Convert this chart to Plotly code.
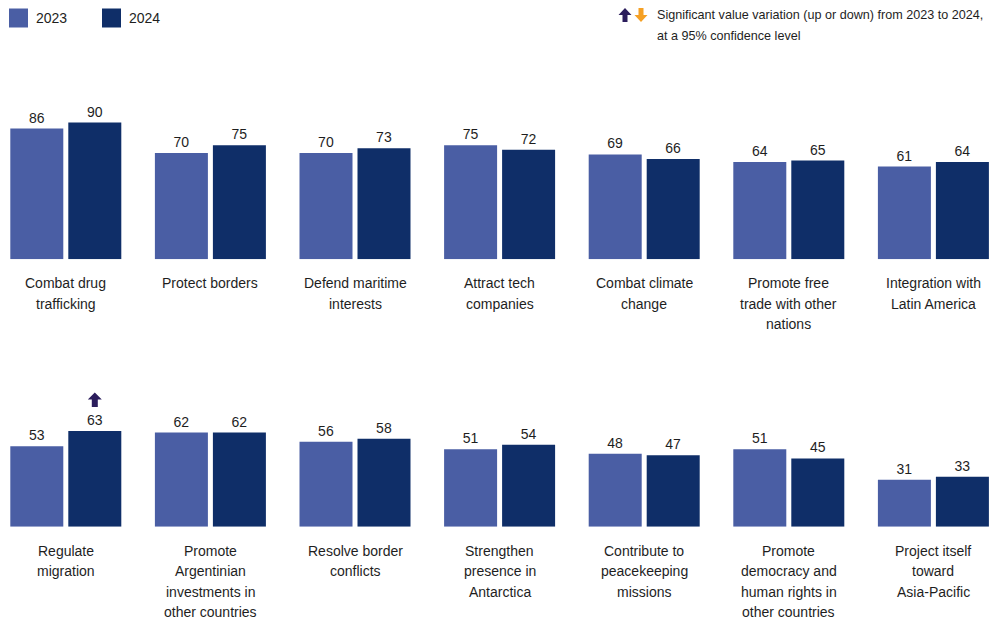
import plotly.graph_objects as go

# ---------------- data ----------------
cats_row1 = ["Combat drug<br>trafficking", "Protect borders", "Defend maritime<br>interests",
             "Attract tech<br>companies", "Combat climate<br>change",
             "Promote free<br>trade with other<br>nations", "Integration with<br>Latin America"]
v2023_row1 = [86, 70, 70, 75, 69, 64, 61]
v2024_row1 = [90, 75, 73, 72, 66, 65, 64]
sig_row1 = ["", "", "", "", "", "", ""]

cats_row2 = ["Regulate<br>migration", "Promote<br>Argentinian<br>investments in<br>other countries",
             "Resolve border<br>conflicts", "Strengthen<br>presence in<br>Antarctica",
             "Contribute to<br>peacekeeping<br>missions", "Promote<br>democracy and<br>human rights in<br>other countries",
             "Project itself<br>toward<br>Asia-Pacific"]
v2023_row2 = [53, 62, 56, 51, 48, 51, 31]
v2024_row2 = [63, 62, 58, 54, 47, 45, 33]
sig_row2 = ["up", "", "", "", "", "", ""]

series_names = ["2023", "2024"]
legend_note = ["Significant value variation (up or down) from 2023 to 2024,", "at a 95% confidence level"]

# ---------------- style ----------------
C23 = "#4A5EA4"
C24 = "#0F2E68"
UP = "#2B1D5C"
DOWN = "#F5A024"
TXT = "#1e1e1e"
FONT = "Liberation Sans, Arial, sans-serif"

W, H = 990, 619
PITCH = 144.6          # px per category
C0 = 65.8              # px of first group centre
BARW = 53.0 / PITCH
GAP = 5.0 / PITCH
PXU = 1.52             # px per value unit

fig = go.Figure()

rows = [
    dict(cats=cats_row1, a=v2023_row1, b=v2024_row1, sig=sig_row1, xa="x", ya="y", base_px=259.3, top_px=60),
    dict(cats=cats_row2, a=v2023_row2, b=v2024_row2, sig=sig_row2, xa="x2", ya="y2", base_px=526.8, top_px=330),
]

xr = [-C0 / PITCH, (W - C0) / PITCH]
annotations = []
shapes = []

for r in rows:
    idx = list(range(len(r["cats"])))
    for vals, col, off in ((r["a"], C23, -(BARW + GAP / 2)), (r["b"], C24, GAP / 2)):
        fig.add_trace(go.Bar(
            x=idx, y=vals, xaxis=r["xa"], yaxis=r["ya"],
            width=BARW, offset=off, marker=dict(color=col, line=dict(width=0)),
            text=[str(v) for v in vals], textposition="outside", cliponaxis=False,
            textfont=dict(family=FONT, size=14, color=TXT), showlegend=False,
            hoverinfo="skip"))
    # category labels (one annotation per line)
    for i, lab in enumerate(r["cats"]):
        for k, line in enumerate(lab.split("<br>")):
            annotations.append(dict(
                x=i, y=0, xref=r["xa"], yref=r["ya"], text=line, showarrow=False,
                xanchor="center", yanchor="middle", yshift=-(24 + 20.5 * k),
                font=dict(family=FONT, size=14, color=TXT)))
    # significance arrows
    for i, s in enumerate(r["sig"]):
        if not s:
            continue
        vals = r["b"]
        xc = i + GAP / 2 + BARW / 2
        if s == "up":
            path = "M-3,24 L3,24 L3,31.5 L7,31.5 L0,38.5 L-7,31.5 L-3,31.5 Z"
            col = UP
        else:
            path = "M-3,38.5 L3,38.5 L3,31 L7,31 L0,24 L-7,31 L-3,31 Z"
            col = DOWN
        shapes.append(dict(type="path", xref=r["xa"], yref=r["ya"], xsizemode="pixel",
                           ysizemode="pixel", xanchor=xc, yanchor=vals[i], path=path,
                           fillcolor=col, line=dict(width=0)))

r1, r2 = rows
layout_axes = {}
for n, r in ((1, r1), (2, r2)):
    rng_top = (r["base_px"] - r["top_px"]) / PXU
    dom = [(H - r["base_px"]) / H, (H - r["top_px"]) / H]
    sfx = "" if n == 1 else "2"
    layout_axes["xaxis" + sfx] = dict(range=xr, domain=[0, 1], visible=False, fixedrange=True,
                                      anchor="y" + sfx)
    layout_axes["yaxis" + sfx] = dict(range=[0, rng_top], domain=dom, visible=False,
                                      fixedrange=True, anchor="x" + sfx)

# legend (custom)
leg_items = [(9, C23, series_names[0]), (102, C24, series_names[1])]
for x0, col, name in leg_items:
    shapes.append(dict(type="rect", xref="paper", yref="paper",
                       x0=x0 / W, x1=(x0 + 19) / W, y0=(H - 27.5) / H, y1=(H - 8.5) / H,
                       fillcolor=col, line=dict(width=0)))
    annotations.append(dict(x=(x0 + 25) / W, y=(H - 18) / H, xref="paper", yref="paper",
                            text=name, showarrow=False, xanchor="left", yanchor="middle",
                            font=dict(family=FONT, size=14, color=TXT)))

# significance key arrows
shapes.append(dict(type="path", xref="paper", yref="paper", xsizemode="pixel", ysizemode="pixel",
                   xanchor=625 / W, yanchor=(H - 22) / H,
                   path="M-2.5,0 L2.5,0 L2.5,7 L6.5,7 L0,14 L-6.5,7 L-2.5,7 Z",
                   fillcolor=UP, line=dict(width=0)))
shapes.append(dict(type="path", xref="paper", yref="paper", xsizemode="pixel", ysizemode="pixel",
                   xanchor=641 / W, yanchor=(H - 22) / H,
                   path="M-2.5,14 L2.5,14 L2.5,7 L6.5,7 L0,0 L-6.5,7 L-2.5,7 Z",
                   fillcolor=DOWN, line=dict(width=0)))
for k, line in enumerate(legend_note):
    annotations.append(dict(x=655 / W, y=(H - 15 - 21 * k) / H, xref="paper", yref="paper",
                            text=line, showarrow=False, xanchor="left", yanchor="middle",
                            font=dict(family=FONT, size=12.6, color=TXT)))

fig.update_layout(
    width=W, height=H, autosize=False,
    margin=dict(l=0, r=0, t=0, b=0, pad=0),
    paper_bgcolor="white", plot_bgcolor="white",
    barmode="overlay", showlegend=False,
    annotations=annotations, shapes=shapes,
    font=dict(family=FONT, size=14, color=TXT),
    **layout_axes,
)

fig.write_html("out.html", config={"displayModeBar": False})
